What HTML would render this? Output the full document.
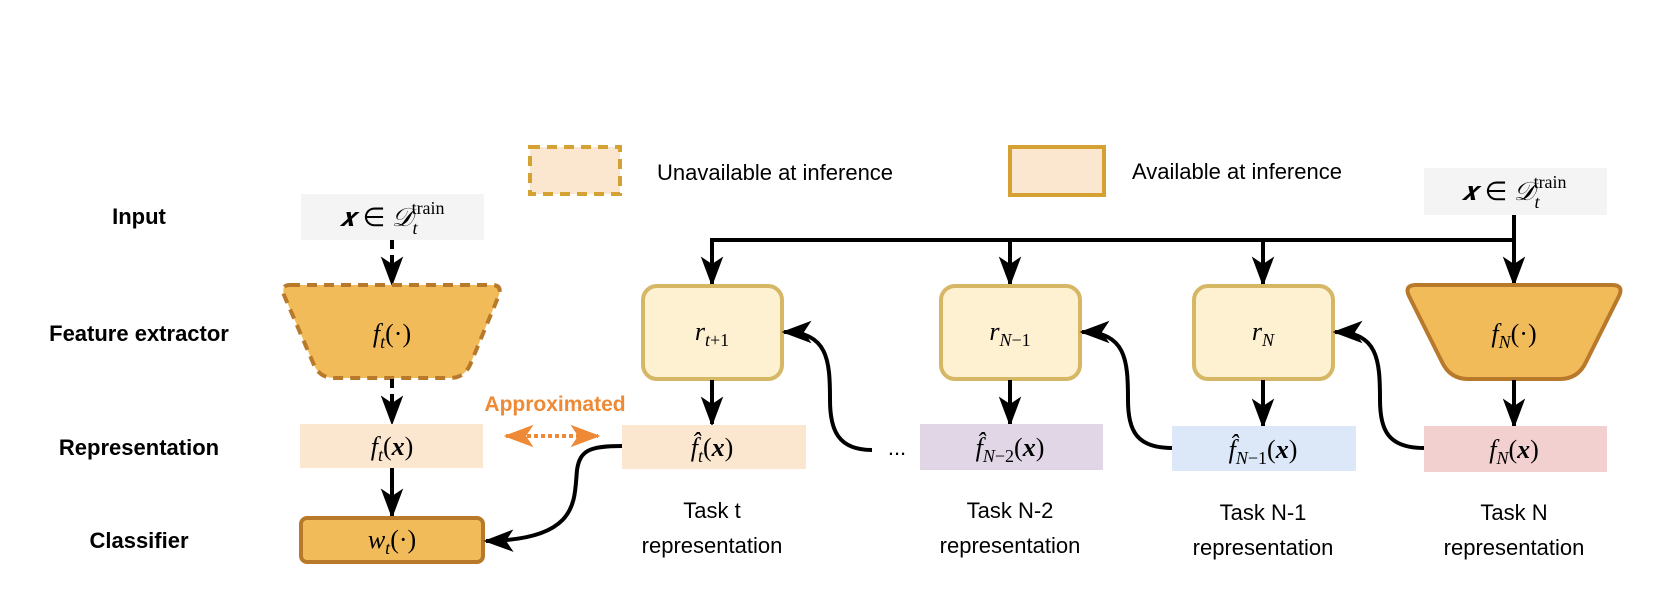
<!DOCTYPE html>
<html><head><meta charset="utf-8"><style>
html,body{margin:0;padding:0;background:#fff;}
svg{display:block;}
.lbl{font-family:"Liberation Sans",sans-serif;font-weight:bold;font-size:22px;fill:#000;}
.txt{font-family:"Liberation Sans",sans-serif;font-size:22px;fill:#000;}
.m{font-family:"Liberation Serif",serif;font-style:italic;font-size:26px;fill:#000;}
.mr{font-style:normal;}
.sub{font-size:18px;}
</style></head><body>
<svg width="1662" height="606" viewBox="0 0 1662 606" xmlns="http://www.w3.org/2000/svg">
<defs>
<marker id="ar" viewBox="0 0 12 12" refX="11" refY="6" markerWidth="30" markerHeight="30" orient="auto" markerUnits="userSpaceOnUse">
<path d="M0,1.5 L12,6 L0,10.5 L3,6 z" fill="#000"/>
</marker>
<marker id="ao" viewBox="0 0 12 12" refX="11" refY="6" markerWidth="30" markerHeight="30" orient="auto-start-reverse" markerUnits="userSpaceOnUse">
<path d="M0,1.5 L12,6 L0,10.5 L3,6 z" fill="#ee8a35"/>
</marker>
</defs>

<text class="lbl" x="139" y="224" text-anchor="middle">Input</text>
<text class="lbl" x="139" y="341" text-anchor="middle">Feature extractor</text>
<text class="lbl" x="139" y="455" text-anchor="middle">Representation</text>
<text class="lbl" x="139" y="548" text-anchor="middle">Classifier</text>

<rect x="530" y="147" width="90" height="47" fill="#fbe6cf" stroke="#d6a133" stroke-width="4" stroke-dasharray="10,7"/>
<text class="txt" x="657" y="180">Unavailable at inference</text>
<rect x="1010" y="147" width="94" height="48" fill="#fbe6cf" stroke="#d6a133" stroke-width="4"/>
<text class="txt" x="1132" y="179">Available at inference</text>

<rect x="301" y="194" width="183" height="46" fill="#f4f4f4"/>
<text class="m" x="392" y="226" text-anchor="middle">𝒙 <tspan class="mr">∈</tspan> 𝒟<tspan class="sub" dy="8">t</tspan><tspan class="sub mr" dx="-6" dy="-20">train</tspan></text>
<line x1="392" y1="240" x2="392" y2="284" stroke="#000" stroke-width="4" stroke-dasharray="9,6" marker-end="url(#ar)"/>
<path d="M290,285 L492,285 Q502,285 499,295 L470,365 Q464,378 450,378 L334,378 Q320,378 314,365 L284,295 Q281,285 290,285 z" fill="#f2bb5a" stroke="#b87a2a" stroke-width="4" stroke-dasharray="10,7"/>
<text class="m" x="392" y="342" text-anchor="middle">f<tspan class="sub" dy="6">t</tspan><tspan class="mr" dy="-6">(·)</tspan></text>
<line x1="392" y1="379" x2="392" y2="423" stroke="#000" stroke-width="4" stroke-dasharray="9,6" marker-end="url(#ar)"/>
<rect x="300" y="424" width="183" height="44" fill="#fbe6cf"/>
<text class="m" x="392" y="455" text-anchor="middle">f<tspan class="sub" dy="6">t</tspan><tspan class="mr" dy="-6">(</tspan><tspan font-weight="bold">x</tspan><tspan class="mr">)</tspan></text>
<line x1="392" y1="468" x2="392" y2="516" stroke="#000" stroke-width="4" marker-end="url(#ar)"/>
<rect x="301" y="518" width="182" height="44" rx="6" fill="#f2bb5a" stroke="#b87a2a" stroke-width="4"/>
<text class="m" x="392" y="548" text-anchor="middle">w<tspan class="sub" dy="6">t</tspan><tspan class="mr" dy="-6">(·)</tspan></text>

<text x="555" y="411" text-anchor="middle" font-family="Liberation Sans,sans-serif" font-weight="bold" font-size="21" fill="#ee8a35">Approximated</text>
<line x1="506" y1="436" x2="598" y2="436" stroke="#ee8a35" stroke-width="4" stroke-dasharray="4,3" marker-start="url(#ao)" marker-end="url(#ao)"/>

<polyline points="712,242 712,240 1514,240" fill="none" stroke="#000" stroke-width="4"/>
<line x1="712" y1="238" x2="712" y2="284" stroke="#000" stroke-width="4" marker-end="url(#ar)"/>
<line x1="1010" y1="240" x2="1010" y2="284" stroke="#000" stroke-width="4" marker-end="url(#ar)"/>
<line x1="1263" y1="240" x2="1263" y2="284" stroke="#000" stroke-width="4" marker-end="url(#ar)"/>
<line x1="1514" y1="215" x2="1514" y2="284" stroke="#000" stroke-width="4" marker-end="url(#ar)"/>

<rect x="1424" y="168" width="183" height="47" fill="#f4f4f4"/>
<text class="m" x="1514" y="200" text-anchor="middle">𝒙 <tspan class="mr">∈</tspan> 𝒟<tspan class="sub" dy="8">t</tspan><tspan class="sub mr" dx="-6" dy="-20">train</tspan></text>

<rect x="643" y="286" width="139" height="93" rx="14" fill="#fdf1d2" stroke="#d6b766" stroke-width="4"/>
<text class="m" x="712" y="340" text-anchor="middle">r<tspan class="sub" dy="6">t<tspan class="mr">+1</tspan></tspan></text>
<rect x="941" y="286" width="139" height="93" rx="14" fill="#fdf1d2" stroke="#d6b766" stroke-width="4"/>
<text class="m" x="1010" y="340" text-anchor="middle">r<tspan class="sub" dy="6">N<tspan class="mr">−1</tspan></tspan></text>
<rect x="1194" y="286" width="139" height="93" rx="14" fill="#fdf1d2" stroke="#d6b766" stroke-width="4"/>
<text class="m" x="1263" y="340" text-anchor="middle">r<tspan class="sub" dy="6">N</tspan></text>
<path d="M1416,285 L1612,285 Q1624,285 1619,296 L1586,362 Q1578,379 1560,379 L1468,379 Q1450,379 1442,362 L1409,296 Q1404,285 1416,285 z" fill="#f2bb5a" stroke="#b87a2a" stroke-width="4"/>
<text class="m" x="1514" y="342" text-anchor="middle">f<tspan class="sub" dy="6">N</tspan><tspan class="mr" dy="-6">(·)</tspan></text>

<line x1="712" y1="380" x2="712" y2="424" stroke="#000" stroke-width="4" marker-end="url(#ar)"/>
<line x1="1010" y1="380" x2="1010" y2="424" stroke="#000" stroke-width="4" marker-end="url(#ar)"/>
<line x1="1263" y1="380" x2="1263" y2="426" stroke="#000" stroke-width="4" marker-end="url(#ar)"/>
<line x1="1514" y1="380" x2="1514" y2="426" stroke="#000" stroke-width="4" marker-end="url(#ar)"/>

<rect x="622" y="425" width="184" height="44" fill="#fbe6cf"/>
<text class="m" x="712" y="456" text-anchor="middle">f̂<tspan class="sub" dy="6">t</tspan><tspan class="mr" dy="-6">(</tspan><tspan font-weight="bold">x</tspan><tspan class="mr">)</tspan></text>
<rect x="920" y="424" width="183" height="46" fill="#e0d6e6"/>
<text class="m" x="1010" y="456" text-anchor="middle">f̂<tspan class="sub" dy="6">N<tspan class="mr">−2</tspan></tspan><tspan class="mr" dy="-6">(</tspan><tspan font-weight="bold">x</tspan><tspan class="mr">)</tspan></text>
<rect x="1172" y="426" width="184" height="45" fill="#dce8f8"/>
<text class="m" x="1263" y="458" text-anchor="middle">f̂<tspan class="sub" dy="6">N<tspan class="mr">−1</tspan></tspan><tspan class="mr" dy="-6">(</tspan><tspan font-weight="bold">x</tspan><tspan class="mr">)</tspan></text>
<rect x="1424" y="426" width="183" height="46" fill="#f2d0d0"/>
<text class="m" x="1514" y="458" text-anchor="middle">f<tspan class="sub" dy="6">N</tspan><tspan class="mr" dy="-6">(</tspan><tspan font-weight="bold">x</tspan><tspan class="mr">)</tspan></text>
<text class="txt" x="897" y="455" text-anchor="middle" font-size="18">...</text>

<path d="M622,446 C590,446 580,450 577,470 C574,500 580,540 486,541" fill="none" stroke="#000" stroke-width="4" marker-end="url(#ar)"/>
<path d="M872,450 C838,450 830,430 830,400 C830,360 828,332 784,332" fill="none" stroke="#000" stroke-width="4" marker-end="url(#ar)"/>
<path d="M1172,448 C1136,448 1128,430 1128,400 C1128,360 1126,332 1082,332" fill="none" stroke="#000" stroke-width="4" marker-end="url(#ar)"/>
<path d="M1424,448 C1388,448 1380,430 1380,400 C1380,360 1378,332 1335,332" fill="none" stroke="#000" stroke-width="4" marker-end="url(#ar)"/>

<text class="txt" text-anchor="middle" x="712" y="518">Task t</text>
<text class="txt" text-anchor="middle" x="712" y="553">representation</text>
<text class="txt" text-anchor="middle" x="1010" y="518">Task N-2</text>
<text class="txt" text-anchor="middle" x="1010" y="553">representation</text>
<text class="txt" text-anchor="middle" x="1263" y="520">Task N-1</text>
<text class="txt" text-anchor="middle" x="1263" y="555">representation</text>
<text class="txt" text-anchor="middle" x="1514" y="520">Task N</text>
<text class="txt" text-anchor="middle" x="1514" y="555">representation</text>
</svg>
</body></html>
